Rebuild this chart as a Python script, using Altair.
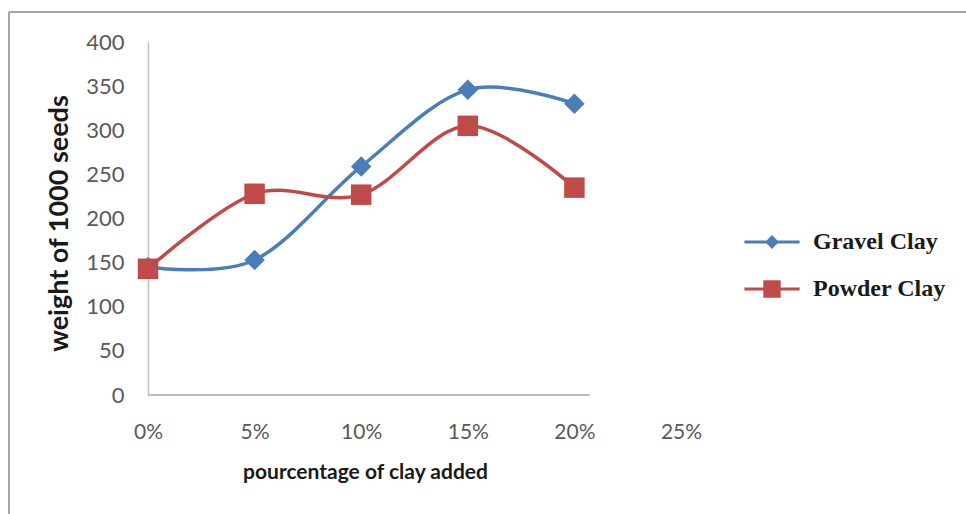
import altair as alt
import pandas as pd

# Percentage of clay added (x) and weight of 1000 seeds (y) for each clay type
pct_added = [0, 5, 10, 15, 20]
gravel_clay = [145, 153, 259, 346, 330]
powder_clay = [143, 228, 227, 305, 235]

series_names = ["Gravel Clay", "Powder Clay"]
series_colors = ["#4A7EBB", "#BE4B48"]

x_ticks = [0, 5, 10, 15, 20, 25]
y_ticks = [0, 50, 100, 150, 200, 250, 300, 350, 400]
x_axis_end = 20.7  # the horizontal axis line stops just past the last category

rows = []
for name, values in zip(series_names, [gravel_clay, powder_clay]):
    for p, v in zip(pct_added, values):
        rows.append({"pct": p, "weight": v, "series": name})
df = pd.DataFrame(rows)

label_font = "Lato"
tick_color = "#595959"
axis_line = "#BFBFBF"
frame_color = "#A6A6A6"

x_enc = alt.X(
    "pct:Q",
    scale=alt.Scale(domain=[0, 25], nice=False, zero=False),
    axis=alt.Axis(
        values=x_ticks,
        labelExpr="datum.value + '%'",
        domain=False,
        ticks=False,
        tickSize=0,
        grid=False,
        labelFont=label_font,
        labelFontSize=21,
        labelColor=tick_color,
        labelPadding=26,
        labelFlush=False,
        title="pourcentage of clay added",
        titleFont=label_font,
        titleFontSize=21,
        titleFontWeight="bold",
        titleColor="#1A1A1A",
        titleX=217,
        titleY=77,
        titleBaseline="middle",
        titleAnchor="start",
        titleAlign="center",
    ),
)

y_enc = alt.Y(
    "weight:Q",
    scale=alt.Scale(domain=[0, 400], nice=False),
    axis=alt.Axis(
        values=y_ticks,
        domain=True,
        domainColor=axis_line,
        domainWidth=1.5,
        ticks=False,
        tickSize=0,
        grid=False,
        labelFont=label_font,
        labelFontSize=22,
        labelColor=tick_color,
        labelPadding=24,
        labelFlush=False,
        title="weight of 1000 seeds",
        titleFont=label_font,
        titleFontSize=27,
        titleFontWeight="bold",
        titleColor="#1A1A1A",
        titleX=-89,
        titleY=181,
        titleAngle=270,
        titleBaseline="middle",
        titleAlign="center",
        titleAnchor="start",
    ),
)

color_enc = alt.Color(
    "series:N",
    scale=alt.Scale(domain=series_names, range=series_colors),
    legend=None,
)

base = alt.Chart(df)

# Legend keys: a short line segment with the series marker in the middle
key_paths = [
    "M-4.6,0H4.6M-0.8,0L0,-0.8L0.8,0L0,0.8Z",
    "M-4.6,0H4.6M-1.2,-1.2H1.2V1.2H-1.2Z",
]

key_legend = alt.Legend(
    orient="none",
    legendX=612,
    legendY=188,
    title=None,
    labelFont="Liberation Serif",
    labelFontWeight="bold",
    labelFontSize=24,
    labelColor="#1A1A1A",
    labelOffset=29,
    symbolSize=144,
    symbolStrokeWidth=3,
    symbolOpacity=1,
    rowPadding=21,
)

# Invisible copy of the points that only carries the legend
legend_layer = base.mark_point(strokeWidth=3, opacity=0).encode(
    x=x_enc,
    y=y_enc,
    shape=alt.Shape("series:N", scale=alt.Scale(domain=series_names, range=key_paths), legend=key_legend),
    fill=alt.Fill("series:N", scale=alt.Scale(domain=series_names, range=series_colors), legend=key_legend),
    stroke=alt.Stroke("series:N", scale=alt.Scale(domain=series_names, range=series_colors), legend=key_legend),
)

lines = base.mark_line(interpolate="cardinal", strokeWidth=3.5).encode(
    x=x_enc, y=y_enc, color=color_enc
)

diamonds = (
    base.transform_filter(alt.datum.series == "Gravel Clay")
    .mark_point(shape="diamond", filled=True, size=420, opacity=1)
    .encode(x=x_enc, y=y_enc, color=color_enc)
)

squares = (
    base.transform_filter(alt.datum.series == "Powder Clay")
    .mark_point(shape="square", filled=True, size=420, opacity=1)
    .encode(x=x_enc, y=y_enc, color=color_enc)
)

# Horizontal axis line, from 0% to just past the last category
x_axis_rule = base.mark_rule(color=axis_line, strokeWidth=1.5).encode(
    x=alt.datum(0), x2=alt.datum(x_axis_end), y=alt.datum(0)
)

# Outer chart frame (top and left edges)
frame_top = base.mark_rule(color=frame_color, strokeWidth=2).encode(
    x=alt.value(-139), x2=alt.value(818), y=alt.value(-30)
)
frame_left = base.mark_rule(color=frame_color, strokeWidth=2).encode(
    x=alt.value(-139), y=alt.value(-30), y2=alt.value(472)
)

chart = (
    alt.layer(legend_layer, frame_top, frame_left, x_axis_rule, lines, diamonds, squares)
    .properties(
        width=533,
        height=353,
        autosize=alt.AutoSizeParams(type="none"),
        padding={"left": 148, "top": 42, "right": 285, "bottom": 119},
        background="white",
    )
    .configure_view(stroke=None)
)

chart.save("out.html", embed_options={"renderer": "svg", "actions": False})
